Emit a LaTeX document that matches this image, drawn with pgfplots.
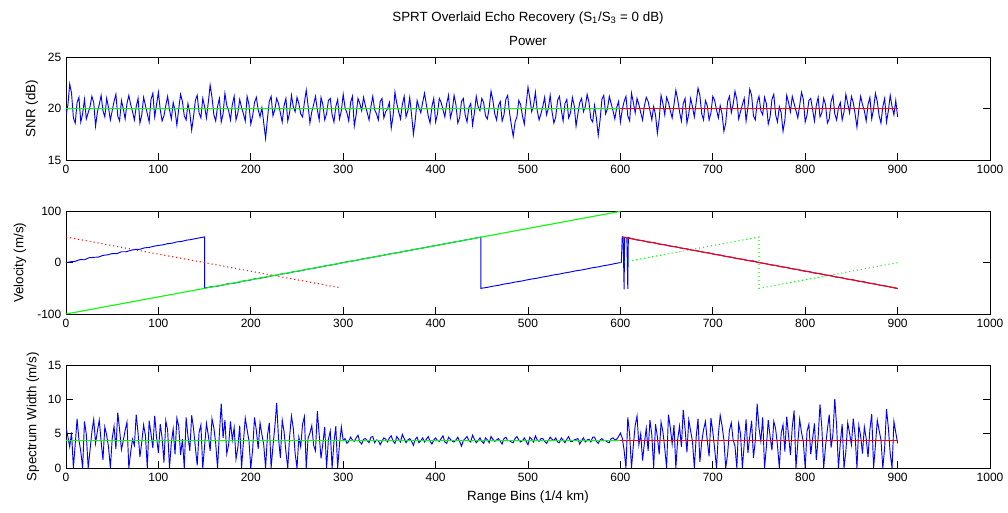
\documentclass[border=0pt]{standalone}
\usepackage{fontspec}
\setmainfont{Liberation Sans}
\usepackage{pgfplots}
\pgfplotsset{compat=1.18}
\usepackage{pgfplotstable}

% noisy estimates, every 2nd range bin: SNR (dB) and spectrum width (m/s)
\pgfplotstableread[row sep=\\]{
x snr sw\\
0 19.4 5.9\\ 2 20.3 4.6\\ 4 22.4 3.1\\ 6 21.5 5.2\\ 8 19.1 0.0\\ 10 18.6 3.5\\ 12 20.6 7.2\\ 14 21.1 4.1\\ 16 18.7 2.4\\ 18 19.5 0.0\\
20 20.9 6.8\\ 22 19.0 4.9\\ 24 19.6 0.0\\ 26 20.2 2.6\\ 28 21.2 5.3\\ 30 20.6 7.1\\ 32 18.3 3.6\\ 34 19.7 5.4\\ 36 20.4 7.0\\ 38 21.3 3.9\\
40 19.8 1.2\\ 42 19.2 6.0\\ 44 21.0 4.8\\ 46 20.1 3.1\\ 48 18.9 0.0\\ 50 19.8 4.3\\ 52 20.7 6.1\\ 54 21.4 2.8\\ 56 19.3 8.1\\ 58 18.8 5.6\\
60 20.8 2.7\\ 62 20.0 4.0\\ 64 19.0 5.5\\ 66 20.5 6.7\\ 68 21.3 0.0\\ 70 20.4 2.3\\ 72 19.7 4.2\\ 74 18.9 3.3\\ 76 20.2 7.8\\ 78 21.0 5.1\\
80 18.6 1.6\\ 82 19.4 3.8\\ 84 21.1 6.3\\ 86 20.3 4.7\\ 88 19.5 0.0\\ 90 18.7 6.9\\ 92 20.9 5.0\\ 94 21.5 2.9\\ 96 19.2 7.6\\ 98 20.4 4.5\\
100 21.6 2.2\\ 102 19.9 6.4\\ 104 18.8 4.4\\ 106 19.3 0.8\\ 108 20.3 6.9\\ 110 21.2 5.5\\ 112 19.9 0.0\\ 114 19.0 3.7\\ 116 20.6 5.7\\ 118 19.8 2.0\\
120 18.4 7.3\\ 122 20.0 6.1\\ 124 21.4 1.9\\ 126 20.7 4.2\\ 128 19.3 0.0\\ 130 18.9 7.4\\ 132 20.5 4.6\\ 134 19.6 2.5\\ 136 17.9 7.7\\ 138 19.2 5.8\\
140 20.8 3.0\\ 142 21.3 0.4\\ 144 19.6 5.2\\ 146 19.1 6.3\\ 148 21.0 0.0\\ 150 20.2 3.2\\ 152 19.1 6.5\\ 154 20.6 4.8\\ 156 22.3 2.5\\ 158 21.1 7.2\\
160 19.4 5.9\\ 162 18.8 3.6\\ 164 20.2 0.0\\ 166 21.0 5.0\\ 168 18.7 9.4\\ 170 19.5 4.4\\ 172 21.5 7.0\\ 174 20.3 2.1\\ 176 19.8 3.4\\ 178 18.9 6.8\\
180 20.4 4.1\\ 182 21.2 5.9\\ 184 18.9 1.3\\ 186 19.6 3.0\\ 188 20.9 6.2\\ 190 20.1 0.0\\ 192 19.5 3.8\\ 194 18.8 7.3\\ 196 21.2 5.6\\ 198 20.4 4.0\\
200 18.5 0.0\\ 202 19.3 2.7\\ 204 20.6 7.4\\ 206 21.1 5.5\\ 208 19.9 2.8\\ 210 19.2 6.6\\ 212 20.1 4.9\\ 214 18.6 3.4\\ 216 17.1 0.0\\ 218 19.0 4.7\\
220 20.7 6.6\\ 222 21.2 0.0\\ 224 19.3 3.2\\ 226 19.9 6.0\\ 228 21.0 9.5\\ 230 20.5 4.3\\ 232 19.6 1.5\\ 234 18.7 7.0\\ 236 20.3 5.3\\ 238 21.0 2.4\\
240 18.8 0.0\\ 242 19.6 4.6\\ 244 21.3 7.6\\ 246 20.2 5.8\\ 248 19.7 2.1\\ 250 21.1 0.0\\ 252 20.5 4.5\\ 254 19.5 3.1\\ 256 19.2 6.4\\ 258 20.6 7.5\\
260 21.8 0.0\\ 262 20.3 4.4\\ 264 18.6 5.1\\ 266 19.7 6.2\\ 268 20.4 3.3\\ 270 21.2 2.5\\ 272 19.9 8.3\\ 274 18.9 4.9\\ 276 21.1 1.4\\ 278 20.4 3.6\\
280 18.9 6.0\\ 282 19.5 0.0\\ 284 20.8 4.2\\ 286 21.0 5.4\\ 288 19.4 0.0\\ 290 18.7 3.8\\ 292 20.2 6.1\\ 294 20.9 0.0\\ 296 19.0 3.5\\ 298 19.8 6.0\\
300 21.4 4.0\\ 302 20.1 4.3\\ 304 19.6 3.6\\ 306 18.8 3.9\\ 308 20.6 4.5\\ 310 21.2 4.1\\ 312 18.3 3.9\\ 314 19.4 4.4\\ 316 21.0 4.8\\ 318 20.5 3.8\\
320 19.8 3.5\\ 322 21.1 4.2\\ 324 20.3 4.3\\ 326 19.6 4.0\\ 328 18.9 3.7\\ 330 20.2 4.5\\ 332 21.2 4.6\\ 334 19.9 3.7\\ 336 19.5 4.1\\ 338 18.9 4.0\\
340 20.7 3.4\\ 342 21.0 3.9\\ 344 19.1 4.4\\ 346 19.7 4.2\\ 348 20.0 3.8\\ 350 20.6 4.4\\ 352 18.1 4.7\\ 354 19.3 3.9\\ 356 21.6 3.6\\ 358 20.5 4.6\\
360 19.7 4.2\\ 362 19.0 3.8\\ 364 20.4 4.9\\ 366 21.2 4.3\\ 368 19.2 3.7\\ 370 19.8 4.1\\ 372 21.1 4.3\\ 374 19.4 3.9\\ 376 17.5 3.3\\ 378 18.9 4.2\\
380 20.8 4.5\\ 382 20.1 3.7\\ 384 19.6 4.0\\ 386 20.6 4.4\\ 388 21.5 3.8\\ 390 20.4 4.2\\ 392 19.3 4.6\\ 394 18.6 3.9\\ 396 20.2 3.5\\ 398 21.0 4.1\\
400 18.7 4.4\\ 402 19.5 4.0\\ 404 21.0 3.9\\ 406 20.6 4.3\\ 408 19.9 4.7\\ 410 19.2 3.8\\ 412 20.5 3.6\\ 414 21.3 4.5\\ 416 19.1 4.2\\ 418 19.8 3.9\\
420 21.3 3.8\\ 422 20.4 4.1\\ 424 18.6 4.5\\ 426 19.1 3.9\\ 428 20.7 3.2\\ 430 21.0 4.0\\ 432 19.4 4.3\\ 434 18.7 4.6\\ 436 20.1 4.0\\ 438 20.5 3.8\\
440 18.4 4.8\\ 442 19.6 4.2\\ 444 21.2 3.7\\ 446 20.2 4.0\\ 448 19.8 4.4\\ 450 21.0 3.9\\ 452 20.6 3.6\\ 454 19.3 4.4\\ 456 19.0 4.1\\ 458 20.1 3.7\\
460 21.7 4.6\\ 462 20.8 4.2\\ 464 19.5 3.9\\ 466 18.9 4.1\\ 468 20.3 4.3\\ 470 20.7 3.9\\ 472 18.8 3.5\\ 474 19.4 4.3\\ 476 20.9 4.5\\ 478 21.3 4.0\\
480 19.6 4.0\\ 482 18.4 3.8\\ 484 17.3 3.7\\ 486 18.7 4.3\\ 488 19.2 4.6\\ 490 20.8 4.1\\ 492 20.4 3.8\\ 494 19.3 4.0\\ 496 18.5 4.4\\ 498 20.4 3.9\\
500 22.1 3.4\\ 502 21.0 4.5\\ 504 19.7 4.2\\ 506 20.3 3.8\\ 508 21.6 4.7\\ 510 19.8 4.1\\ 512 18.9 3.9\\ 514 19.5 4.3\\ 516 20.2 4.3\\ 518 21.1 3.9\\
520 19.4 3.6\\ 522 20.0 4.0\\ 524 21.3 4.5\\ 526 19.7 4.2\\ 528 18.6 4.0\\ 530 19.2 4.4\\ 532 20.8 3.8\\ 534 21.2 3.7\\ 536 19.9 4.4\\ 538 18.8 4.1\\
540 20.5 3.7\\ 542 20.9 4.2\\ 544 19.1 4.6\\ 546 19.6 3.9\\ 548 21.1 3.9\\ 550 20.3 4.1\\ 552 18.3 4.2\\ 554 19.5 4.3\\ 556 20.6 3.5\\ 558 21.0 4.0\\
560 19.7 4.4\\ 562 20.2 3.8\\ 564 21.4 4.1\\ 566 20.6 4.2\\ 568 19.0 3.8\\ 570 18.7 4.5\\ 572 20.3 4.5\\ 574 19.1 3.9\\ 576 17.4 3.6\\ 578 18.9 4.1\\
580 20.9 4.3\\ 582 21.3 4.0\\ 584 19.5 4.0\\ 586 20.0 3.8\\ 588 21.2 3.7\\ 590 20.5 4.3\\ 592 19.8 4.4\\ 594 19.0 4.1\\ 596 20.1 4.2\\ 598 20.7 4.6\\
600 18.7 5.1\\ 602 19.9 4.4\\ 604 20.7 2.6\\ 606 21.2 0.0\\ 608 19.3 7.4\\ 610 18.8 4.9\\ 612 21.5 0.0\\ 614 20.6 3.3\\ 616 19.6 6.2\\ 618 21.0 7.6\\
620 20.4 3.4\\ 622 19.6 5.0\\ 624 18.9 1.1\\ 626 20.3 3.7\\ 628 21.1 5.8\\ 630 20.7 2.5\\ 632 19.8 7.0\\ 634 18.9 4.8\\ 636 20.2 0.0\\ 638 19.4 6.4\\
640 17.6 4.6\\ 642 19.0 2.0\\ 644 21.3 6.7\\ 646 20.5 5.3\\ 648 19.4 2.9\\ 650 21.1 0.0\\ 652 20.6 7.8\\ 654 19.8 5.9\\ 656 19.1 3.5\\ 658 20.4 6.3\\
660 21.8 0.0\\ 662 20.9 4.2\\ 664 19.7 6.1\\ 666 18.8 3.1\\ 668 20.5 8.5\\ 670 21.0 5.7\\ 672 18.6 2.3\\ 674 19.5 7.0\\ 676 21.0 5.4\\ 678 20.2 3.9\\
680 19.2 0.0\\ 682 20.6 4.5\\ 684 22.0 7.2\\ 686 21.3 0.9\\ 688 19.5 3.8\\ 690 18.9 5.6\\ 692 20.8 6.8\\ 694 20.3 4.0\\ 696 18.9 1.7\\ 698 19.6 7.3\\
700 21.2 5.3\\ 702 20.8 2.8\\ 704 19.9 0.0\\ 706 19.1 4.9\\ 708 20.3 7.7\\ 710 19.5 6.2\\ 712 17.8 4.1\\ 714 18.6 0.0\\ 716 20.7 2.0\\ 718 21.2 5.5\\
720 19.6 6.6\\ 722 20.4 4.1\\ 724 21.7 3.2\\ 726 20.9 0.0\\ 728 19.0 6.5\\ 730 19.7 5.0\\ 732 20.4 0.0\\ 734 21.0 3.5\\ 736 18.8 7.1\\ 738 20.1 2.2\\
740 21.9 4.6\\ 742 21.3 6.9\\ 744 19.3 1.5\\ 746 18.9 4.0\\ 748 20.6 9.4\\ 750 21.2 5.8\\ 752 19.8 3.9\\ 754 19.4 7.4\\ 756 21.1 0.0\\ 758 20.5 3.1\\
760 18.5 7.0\\ 762 19.2 4.6\\ 764 20.9 2.6\\ 766 21.4 6.8\\ 768 19.4 5.7\\ 770 18.7 3.3\\ 772 20.2 0.0\\ 774 19.6 5.1\\ 776 17.8 6.3\\ 778 18.9 2.4\\
780 21.3 7.5\\ 782 20.6 4.7\\ 784 19.7 1.9\\ 786 21.2 6.0\\ 788 20.5 8.4\\ 790 19.8 0.0\\ 792 19.1 3.6\\ 794 20.3 7.1\\ 796 21.6 5.2\\ 798 20.9 3.8\\
800 18.7 0.0\\ 802 19.4 5.4\\ 804 20.8 6.4\\ 806 21.0 2.0\\ 808 19.9 4.3\\ 810 18.8 6.5\\ 812 20.3 1.2\\ 814 21.1 4.4\\ 816 19.2 9.3\\ 818 19.6 5.9\\
820 21.0 0.0\\ 822 20.4 3.2\\ 824 18.6 5.6\\ 826 19.0 7.8\\ 828 20.7 3.0\\ 830 21.3 4.9\\ 832 19.5 10.1\\ 834 18.9 6.1\\ 836 20.1 0.0\\ 838 20.6 3.7\\
840 18.9 6.4\\ 842 19.7 0.0\\ 844 21.4 2.4\\ 846 20.5 6.6\\ 848 19.6 5.1\\ 850 21.2 3.4\\ 852 20.6 7.2\\ 854 19.5 4.8\\ 856 18.2 0.0\\ 858 19.9 6.2\\
860 21.2 4.7\\ 862 20.4 2.1\\ 864 19.8 6.0\\ 866 18.8 4.3\\ 868 20.4 1.6\\ 870 21.1 5.6\\ 872 19.0 7.9\\ 874 20.0 0.0\\ 876 21.5 3.3\\ 878 20.7 7.0\\
880 19.3 5.5\\ 882 18.6 4.1\\ 884 20.2 0.0\\ 886 21.0 3.0\\ 888 18.7 8.6\\ 890 19.8 5.9\\ 892 21.3 2.1\\ 894 20.2 0.0\\ 896 19.4 6.8\\ 898 20.8 5.2\\
900 19.2 3.6\\
}\noisedata

\pgfplotsset{
  mpanel/.style={
    scale only axis, width=693pt, height=77pt,
    xmin=0, xmax=1000, xtick={0,100,...,1000},
    tick align=inside, major tick length=5pt,
    tick style={black, line width=0.5pt},
    axis line style={line width=0.5pt},
    tick label style={font=\fontsize{9}{10}\selectfont},
    label style={font=\fontsize{10}{11}\selectfont},
    /pgf/number format/assume math mode=true,
    /pgf/number format/1000 sep={},
  },
  est/.style={blue, line width=0.7pt},
  truth/.style={line width=0.8pt},
  dots/.style={line width=0.8pt, dash pattern=on 0.8pt off 2.2pt},
}

\begin{document}
\begin{tikzpicture}
\useasboundingbox (0,0) rectangle (756pt,384pt);

\node[font=\fontsize{10}{11}\selectfont] at (396pt,370.5pt)
  {SPRT Overlaid Echo Recovery (S\textsubscript{1}/S\textsubscript{3} = 0 dB)};
\node[font=\fontsize{10}{11}\selectfont] at (396pt,353.5pt) {Power};

% power
\begin{axis}[mpanel, at={(49.5pt,264pt)}, ymin=15, ymax=25, ytick={15,20,25},
  ylabel={SNR (dB)},
  ylabel style={at={(axis description cs:-0.0368,0.5)}, anchor=center, inner sep=0pt}]
  \addplot[est] table[x=x, y=snr] {\noisedata};
  \addplot[red, dots] coordinates {(0,20) (300,20)};
  \addplot[green, dots] coordinates {(600,20) (900,20)};
  \addplot[green, truth] coordinates {(0,20) (600,20)};
  \addplot[red, truth] coordinates {(600,20) (900,20)};
\end{axis}

% velocity
\begin{axis}[mpanel, at={(49.5pt,148.5pt)}, ymin=-100, ymax=100, ytick={-100,0,100},
  ylabel={Velocity (m/s)},
  ylabel style={at={(axis description cs:-0.0498,0.5)}, anchor=center, inner sep=0pt}]
  \addplot[est] coordinates {
    (0,0) (5,1.8) (10,2.6) (15,5.9) (20,5.7) (25,9.6) (30,10.4) (35,10.9)
    (40,14.2) (45,15.3) (50,17.7) (55,17.6) (60,21.3) (65,21.2) (70,23.9)
    (75,25.9) (80,26.1) (85,28.9) (90,29.7) (95,32.1) (100,33.6) (105,34.7)
    (110,37.1) (115,38.0) (120,40.5) (125,41.3) (130,43.7) (135,44.9)
    (140,46.8) (145,48.5) (150,50.2) (150,-49.6)
    (156,-47.3) (162,-46.2) (168,-44.5) (174,-41.6) (180,-40.3) (186,-38.8)
    (192,-35.7) (198,-34.5) (204,-31.6) (210,-30.3) (216,-28.4) (222,-25.7)
    (228,-24.4) (234,-21.8) (240,-20.5) (246,-17.8) (252,-16.4) (258,-14.1)
    (264,-11.8) (270,-10.3) (276,-8.1) (282,-5.7) (288,-4.3) (294,-2.1)
    (300,0.3) (306,2.2) (312,3.8) (318,6.1) (324,8.3) (330,9.8) (336,12.2)
    (342,13.7) (348,16.3) (354,18.1) (360,19.6) (366,22.2) (372,23.8)
    (378,26.1) (384,27.9) (390,29.8) (396,32.2) (402,33.7) (408,36.1)
    (414,37.9) (420,40.2) (426,41.8) (432,44.1) (438,45.9) (444,48.2)
    (449,49.8) (449,-50)
    (456,-48.1) (462,-45.8) (468,-44.2) (474,-41.7) (480,-40.1) (486,-37.8)
    (492,-36.2) (498,-33.9) (504,-31.8) (510,-30.2) (516,-27.9) (522,-26.1)
    (528,-23.8) (534,-22.2) (540,-19.9) (546,-18.1) (552,-15.8) (558,-14.2)
    (564,-12.1) (570,-9.8) (576,-8.2) (582,-5.9) (588,-4.1) (594,-1.8)
    (600,0.2) (601,0.5) (602,50.5) (603,49.8) (604,-52) (604.6,49.5)
    (606,49.0) (607,48.8) (608,-51) (608.6,48.9) (610,48.2)
    (612,46.9) (618,44.2) (624,42.9) (630,40.1) (636,39.3) (642,36.1)
    (648,34.9) (654,32.0) (660,31.1) (666,28.2) (672,26.9) (678,24.1)
    (684,22.8) (690,20.2) (696,18.9) (702,16.1) (708,14.8) (714,12.0)
    (720,10.9) (726,8.1) (732,6.8) (738,4.0) (744,3.4) (750,0.0)
    (756,-1.3) (762,-4.1) (768,-5.2) (774,-8.1) (780,-9.2) (786,-12.1)
    (792,-13.3) (798,-16.2) (804,-17.3) (810,-20.2) (816,-21.3) (822,-24.2)
    (828,-25.3) (834,-28.3) (840,-29.4) (846,-32.3) (852,-33.4) (858,-36.3)
    (864,-37.5) (870,-40.3) (876,-41.6) (882,-44.4) (888,-45.6) (894,-48.3)
    (900,-50.5)
  };
  \addplot[red, dots] coordinates {(0,50) (297,-49)};
  \addplot[green, dots] coordinates {(600,0) (750,50) (750,-50) (900,0)};
  \addplot[green, truth] coordinates {(0,-100) (600,100)};
  \addplot[red, truth] coordinates {(602,50) (900,-50)};
\end{axis}

% spectrum width
\begin{axis}[mpanel, at={(49.5pt,33pt)}, ymin=0, ymax=15, ytick={0,5,10,15},
  ylabel={Spectrum Width (m/s)},
  ylabel style={at={(axis description cs:-0.0357,0.5)}, anchor=center, inner sep=0pt},
  xlabel={Range Bins (1/4 km)},
  xlabel style={at={(axis description cs:0.5,-0.28)}, anchor=center, inner sep=0pt}]
  \addplot[est] table[x=x, y=sw] {\noisedata};
  \addplot[red, dots] coordinates {(0,4) (300,4)};
  \addplot[green, dots] coordinates {(600,4) (900,4)};
  \addplot[green, truth] coordinates {(0,4) (600,4)};
  \addplot[red, truth] coordinates {(600,4) (900,4)};
\end{axis}
\end{tikzpicture}
\end{document}
